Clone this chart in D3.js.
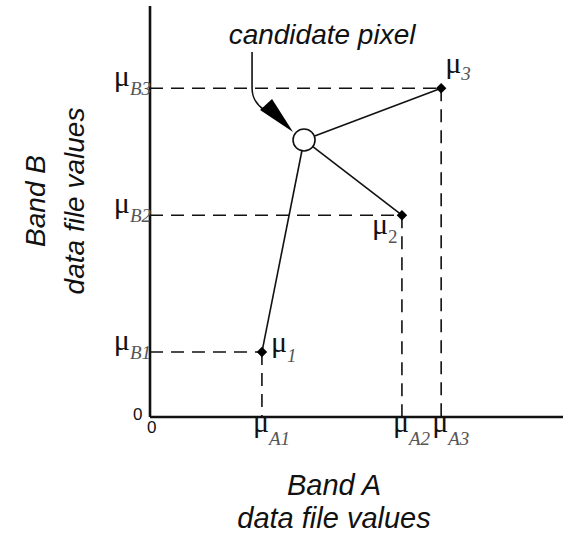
<!DOCTYPE html>
<html lang="en">
<head>
<meta charset="utf-8">
<title>Minimum distance to means</title>
<script src="https://cdn.jsdelivr.net/npm/d3@7"></script>
<style>
  body { margin: 0; background: #fff; }
  .lab { font-family: "Liberation Sans", Arial, sans-serif; font-style: italic; fill: #111; }
  .mu { font-family: "Liberation Serif", "Times New Roman", serif; fill: #111; }
  .sub { font-style: italic; fill: #555; }
</style>
</head>
<body>
<script>
// class means in band A / band B (0-100 data units)
let classIds = ["1", "2", "3"]
let meanA = [27.1, 61.0, 70.5]
let meanB = [15.8, 49.1, 80.0]
let candidate = [37.3, 67.4]
let axisLabelA = ["Band A", "data file values"]
let axisLabelB = ["Band B", "data file values"]

let w = 567, h = 535

let x = d3.scaleLinear().domain([0, 100]).range([150, 563])
let y = d3.scaleLinear().domain([0, 100]).range([417, 6])

let svg = d3.select("body").append("svg")
  .attr("width", w)
  .attr("height", h)

let means = classIds.map((c, i) => ({ id: c, a: meanA[i], b: meanB[i] }))

// dashed guides to the axes
svg.selectAll(".hguide").data(means).enter().append("line")
  .attr("x1", x(0)).attr("x2", (d) => x(d.a))
  .attr("y1", (d) => y(d.b)).attr("y2", (d) => y(d.b))
  .attr("stroke", "#111").attr("stroke-width", 1.6)
  .attr("stroke-dasharray", "13,8")

svg.selectAll(".vguide").data(means).enter().append("line")
  .attr("x1", (d) => x(d.a)).attr("x2", (d) => x(d.a))
  .attr("y1", (d) => y(d.b)).attr("y2", y(0))
  .attr("stroke", "#111").attr("stroke-width", 1.6)
  .attr("stroke-dasharray", "13,8")

// axes
svg.append("line")
  .attr("x1", x(0)).attr("x2", x(0)).attr("y1", y(0)).attr("y2", y(100))
  .attr("stroke", "#111").attr("stroke-width", 2.6)
svg.append("line")
  .attr("x1", x(0)).attr("x2", x(100)).attr("y1", y(0)).attr("y2", y(0))
  .attr("stroke", "#111").attr("stroke-width", 2.6)

// distances from candidate to each mean
let cx = x(candidate[0]), cy = y(candidate[1])
svg.selectAll(".dist").data(means).enter().append("line")
  .attr("x1", cx).attr("y1", cy)
  .attr("x2", (d) => x(d.a)).attr("y2", (d) => y(d.b))
  .attr("stroke", "#111").attr("stroke-width", 1.6)

svg.append("circle")
  .attr("cx", cx).attr("cy", cy).attr("r", 11)
  .attr("fill", "#fff").attr("stroke", "#111").attr("stroke-width", 1.6)

svg.selectAll(".mean").data(means).enter().append("path")
  .attr("d", d3.symbol().type(d3.symbolDiamond2).size(70))
  .attr("transform", (d) => "translate(" + x(d.a) + "," + y(d.b) + ")")
  .attr("fill", "#000")

// arrow pointing at the candidate pixel
let ax = cx - 52
svg.append("path")
  .attr("d", "M" + ax + "," + (cy - 88) + " V" + (cy - 52) + " C" + ax + "," + (cy - 42) + " " + (ax + 4) + "," + (cy - 36) + " " + (ax + 12) + "," + (cy - 30))
  .attr("fill", "none").attr("stroke", "#111").attr("stroke-width", 1.6)
svg.append("path")
  .attr("d", "M" + (ax + 8) + "," + (cy - 30) + " L" + (ax + 20) + "," + (cy - 41) + " L" + (cx - 11) + "," + (cy - 8) + " Z")
  .attr("fill", "#000")

svg.append("text").attr("class", "lab")
  .attr("x", cx + 18).attr("y", cy - 96)
  .attr("text-anchor", "middle")
  .style("font-size", "28px")
  .text("candidate pixel")

// mu labels helper
function mu(px, py, sub, subDy, italicSub, anchor) {
  let t = svg.append("text").attr("class", "mu")
    .attr("x", px).attr("y", py)
    .attr("text-anchor", anchor || "start")
  t.append("tspan").style("font-size", "30px").text("\u03bc")
  t.append("tspan").attr("class", "sub").attr("dy", subDy)
    .style("font-size", "19px")
    .style("font-style", italicSub ? "italic" : "normal")
    .text(sub)
  return t
}

// band B labels on the y axis
means.forEach((d) => mu(x(0) + 1, y(d.b) - 2, "B" + d.id, 9, true, "end"))
// band A labels under the x axis
means.forEach((d) => mu(x(d.a) - 9, y(0) + 15, "A" + d.id, 13, true))
// labels next to the means
mu(x(means[0].a) + 9, y(means[0].b), "1", 10, true)
mu(x(means[1].a) - 30, y(means[1].b) + 19, "2", 9, false)
mu(x(means[2].a) + 4, y(means[2].b) - 15, "3", 7, true)

// zero marks
svg.append("text").attr("class", "lab")
  .attr("x", x(0) - 17).attr("y", y(0) + 3)
  .style("font-size", "17px").style("font-style", "normal")
  .text("0")
svg.append("text").attr("class", "lab")
  .attr("x", x(0) - 3).attr("y", y(0) + 16)
  .style("font-size", "17px").style("font-style", "normal")
  .text("0")

// axis titles
svg.append("text").attr("class", "lab")
  .attr("text-anchor", "middle").style("font-size", "29px")
  .selectAll("tspan").data(axisLabelA).enter().append("tspan")
  .attr("x", 334).attr("y", (d, i) => 495 + i * 33)
  .text((d) => d)

svg.append("text").attr("class", "lab")
  .attr("text-anchor", "middle").style("font-size", "28px")
  .attr("transform", "rotate(-90)")
  .selectAll("tspan").data(axisLabelB).enter().append("tspan")
  .attr("x", -201).attr("y", (d, i) => 45 + i * 39)
  .text((d) => d)
</script>
</body>
</html>
